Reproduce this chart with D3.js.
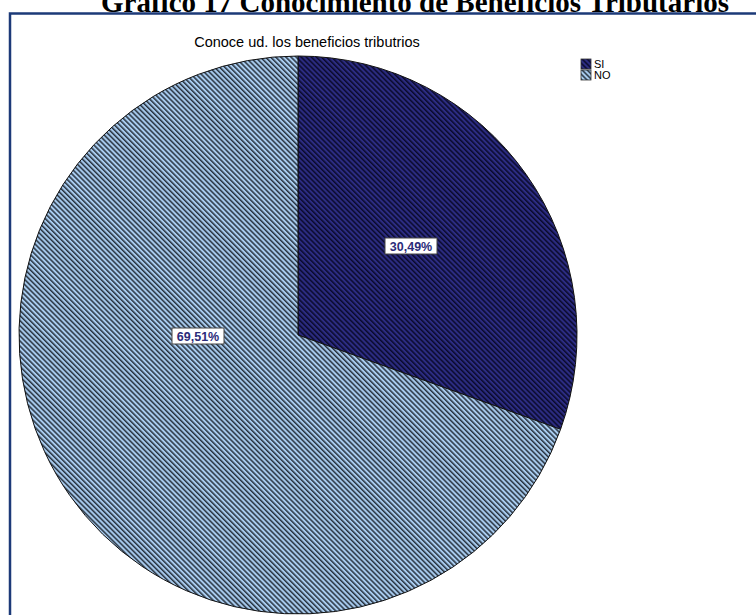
<!DOCTYPE html>
<html>
<head>
<meta charset="utf-8">
<script src="https://cdn.jsdelivr.net/npm/d3@7/dist/d3.min.js"></script>
<style>
  html, body { margin: 0; padding: 0; background: #fff; }
  svg { display: block; }
</style>
</head>
<body>
<svg id="chart" width="756" height="615"></svg>
<script>
// Survey answers: "Conoce ud. los beneficios tributrios"
const categories = ["SI", "NO"];
const percentages = [30.49, 69.51];
const labelTexts = ["30,49%", "69,51%"];

const W = 756, H = 615;
const svg = d3.select("#chart");

// Hatch fills: base colour with dark diagonal stripes
const P = 3.6;
const fills = [
  { id: "hatch-si", base: "#2c2c82", stripe: "#0a0a2c" },
  { id: "hatch-no", base: "#a8cbee", stripe: "#27323f" }
];
const defs = svg.append("defs");
fills.forEach(f => {
  const p = defs.append("pattern")
    .attr("id", f.id)
    .attr("patternUnits", "userSpaceOnUse")
    .attr("width", P).attr("height", P)
    .attr("patternTransform", "rotate(-45)");
  p.append("rect").attr("width", P).attr("height", P).attr("fill", f.base);
  p.append("rect").attr("width", 1.5).attr("height", P).attr("fill", f.stripe);
});

// Document heading above the framed chart
svg.append("text")
  .attr("x", 415).attr("y", 12)
  .attr("text-anchor", "middle")
  .attr("font-family", "'Liberation Serif', 'Times New Roman', serif")
  .attr("font-weight", "bold")
  .attr("font-size", 29)
  .attr("fill", "#000")
  .text("Gráfico 17 Conocimiento de Beneficios Tributarios");

// Chart frame
svg.append("path")
  .attr("d", `M10,${H + 5} L10,13.5 L${W + 5},13.5`)
  .attr("fill", "none")
  .attr("stroke", "#1c3a78")
  .attr("stroke-width", 2.5);

// Chart title
svg.append("text")
  .attr("x", 307).attr("y", 47)
  .attr("text-anchor", "middle")
  .attr("font-family", "'Liberation Sans', Arial, sans-serif")
  .attr("font-size", 14.5)
  .attr("fill", "#000")
  .text("Conoce ud. los beneficios tributrios");

// Pie
const cx = 298, cy = 335, r = 279;
const pie = d3.pie().sort(null).value(d => d)(percentages);
const arc = d3.arc().innerRadius(0).outerRadius(r);

const g = svg.append("g").attr("transform", `translate(${cx},${cy})`);
g.selectAll("path.slice")
  .data(pie)
  .join("path")
  .attr("class", "slice")
  .attr("d", arc)
  .attr("fill", (d, i) => `url(#${fills[i].id})`)
  .attr("stroke", "#111")
  .attr("stroke-width", 1);

// Value labels in boxed tags
const labelOffsets = [[113, -89], [-100, 1]];
const lg = g.selectAll("g.lbl")
  .data(pie)
  .join("g")
  .attr("class", "lbl")
  .attr("transform", (d, i) => `translate(${labelOffsets[i][0]},${labelOffsets[i][1]})`);
lg.append("rect")
  .attr("x", -26).attr("y", -8)
  .attr("width", 52).attr("height", 16)
  .attr("fill", "#fff")
  .attr("stroke", "#444")
  .attr("stroke-width", 1);
lg.append("text")
  .attr("text-anchor", "middle")
  .attr("dy", "0.36em")
  .attr("font-family", "'Liberation Sans', Arial, sans-serif")
  .attr("font-weight", "bold")
  .attr("font-size", 12.5)
  .attr("fill", "#2c2c7a")
  .text((d, i) => labelTexts[i]);

// Legend
const leg = svg.append("g").attr("transform", "translate(581,59)");
const li = leg.selectAll("g")
  .data(categories)
  .join("g")
  .attr("transform", (d, i) => `translate(0,${i * 11})`);
li.append("rect")
  .attr("width", 10).attr("height", 10)
  .attr("fill", (d, i) => `url(#${fills[i].id})`)
  .attr("stroke", "#333")
  .attr("stroke-width", 0.8);
li.append("text")
  .attr("x", 13).attr("y", 9)
  .attr("font-family", "'Liberation Sans', Arial, sans-serif")
  .attr("font-size", 11)
  .attr("fill", "#000")
  .text(d => d);
</script>
</body>
</html>
